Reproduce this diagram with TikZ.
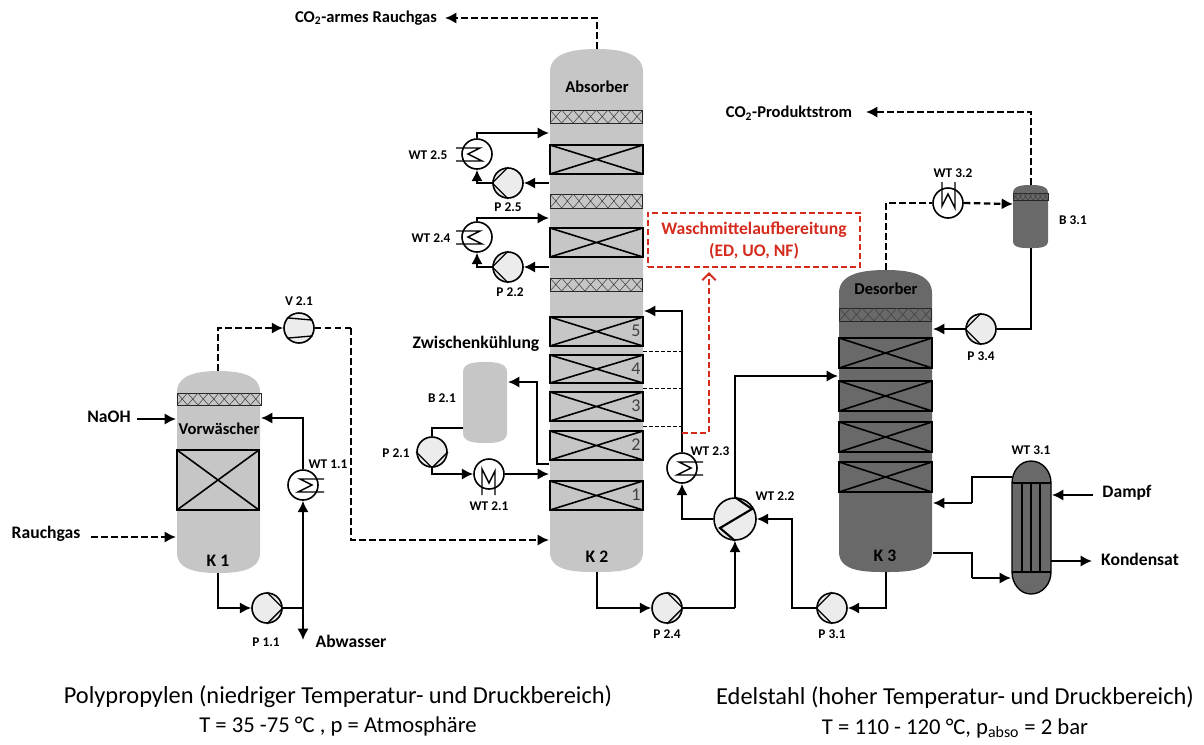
\documentclass[tikz,border=0pt]{standalone}
\usepackage{fontspec}
\setmainfont{Carlito}
\usetikzlibrary{arrows.meta}
\definecolor{lightcol}{HTML}{C6C6C6}
\definecolor{darkcol}{HTML}{696969}
\definecolor{unitcol}{HTML}{ECECEC}
\definecolor{redcol}{HTML}{D52B1E}
\tikzset{
  flow/.style={line width=1.5pt,-{Latex[length=8.5pt,width=8.5pt]}},
  pipe/.style={line width=1.5pt},
  gasflow/.style={line width=1.7pt,dash pattern=on 5pt off 2.5pt,-{Latex[length=8.5pt,width=8.5pt]}},
  gaspipe/.style={line width=1.7pt,dash pattern=on 5pt off 2.5pt},
  levelline/.style={line width=0.7pt,dash pattern=on 3pt off 1.5pt},
  redflow/.style={redcol,line width=1.5pt,dash pattern=on 4.5pt off 2.4pt,-{Straight Barb[length=5pt,width=10pt]}},
  unit/.style={circle,draw,line width=1.2pt,fill=unitcol,minimum size=22.5pt,inner sep=0pt},
  unitlabel/.style={font=\bfseries\fontsize{10}{12}\selectfont,inner sep=0pt},
  streamlabel/.style={font=\bfseries\fontsize{12.4}{14}\selectfont,inner sep=0pt},
  biglabel/.style={font=\bfseries\fontsize{13.2}{15}\selectfont,inner sep=0pt},
  matlabel/.style={font=\fontsize{18.3}{22}\selectfont,inner sep=0pt},
  matsub/.style={font=\fontsize{17}{20}\selectfont,inner sep=0pt},
}
% column body: name, x0, xm, x1, top, shoulder, lower shoulder, bottom, colour
\newcommand{\tower}[9]{
  \fill[#9] (#2,#6) to[out=90,in=180] (#3,#5) to[out=0,in=90] (#4,#6)
    -- (#4,#7) to[out=-90,in=0] (#3,#8) to[out=180,in=-90] (#2,#7) -- cycle;
  \coordinate (#1top) at (#3,#5);
  \coordinate (#1bot) at (#3,#8);
}
% packed bed
\newcommand{\packing}[4]{
  \draw[line width=1.3pt] (#1,#2) rectangle (#3,#4);
  \draw[line width=1.2pt] (#1,#2) -- (#3,#4) (#1,#4) -- (#3,#2);
}
% demister: x0, y0, cell width, y1, number of cells
\newcommand{\demister}[5]{
  \draw[line width=0.7pt,black!85] (#1,#2) rectangle ({#1+#3*#5},#4);
  \foreach \k in {1,...,#5}{
    \draw[line width=0.4pt,black!75] ({#1+#3*(\k-1)},#2) -- ({#1+#3*\k},#4)
      ({#1+#3*(\k-1)},#4) -- ({#1+#3*\k},#2);
  }
}
% pump: name, x, y, outlet angle
\newcommand{\pump}[4]{
  \node[unit] (#1) at (#2,#3) {};
  \pgfmathtruncatemacro{\angA}{#4+90}
  \pgfmathtruncatemacro{\angB}{#4-90}
  \draw[line width=1pt] (#1.\angA) -- (#1.#4) -- (#1.\angB);
}
% heat exchanger: name, x, y, orientation
\newcommand{\wt}[4]{
  \node[unit,fill=white] (#1) at (#2,#3) {};
  \begin{scope}[shift={(#2,#3)},#4]
    \draw[line width=1.1pt] (21,-6) -- (-3,-6) -- (9,0) -- (-5,7) -- (21,7);
  \end{scope}
}
\begin{document}
\begin{tikzpicture}[x=0.75pt,y=-0.75pt]
\useasboundingbox (0,0) rectangle (1204,744);

% columns
\tower{K1}{177}{218}{260}{371}{392}{553}{573}{lightcol}
\tower{K2}{550}{597}{643}{49}{72}{552}{572}{lightcol}
\tower{K3}{839}{886}{932}{270}{293}{552}{572}{darkcol}
\tower{B21}{463}{485}{507}{362}{372}{433}{443}{lightcol}
\tower{B31}{1013}{1031}{1048}{185}{193}{241}{248}{darkcol}

% internals
\demister{177}{393}{10.5}{405}{8}
\packing{177}{450}{259}{510}
\demister{550}{110}{11.6}{123}{8}
\demister{550}{194}{11.6}{208}{8}
\demister{550}{278}{11.6}{291}{8}
\packing{550}{145}{643}{174}
\packing{550}{228}{643}{257}
\packing{550}{317}{643}{346}
\packing{550}{355}{643}{383}
\packing{550}{392}{643}{421}
\packing{550}{431}{643}{460}
\packing{550}{481}{643}{510}
\demister{839}{308}{11.6}{321}{8}
\packing{839}{338}{932}{368}
\packing{839}{381}{932}{411}
\packing{839}{422}{932}{452}
\packing{839}{462}{932}{492}
\demister{1013}{193}{5}{200}{7}

% reboiler WT 3.1
\draw[line width=1pt,fill=darkcol] (1012,483) to[out=90,in=180] (1031,461) to[out=0,in=90] (1051,483)
  -- (1051,572) to[out=-90,in=0] (1031,594) to[out=180,in=-90] (1012,572) -- cycle;
\draw[line width=1pt] (1012,483) -- (1051,483) (1012,572) -- (1051,572);
\draw[line width=1pt] (1022,483) -- (1022,572) (1031,483) -- (1031,572) (1040,483) -- (1040,572);

% machines
\pump{P11}{267}{608}{0}
\pump{P25}{508}{183}{180}
\pump{P22}{508}{267}{180}
\pump{P21}{432}{452}{-90}
\pump{P24}{667}{608}{0}
\pump{P31}{832}{608}{180}
\pump{P34}{981}{329}{180}
\node[unit] (V21) at (299,328) {};
\draw[line width=1pt] (V21.140) -- (V21.30) (V21.-140) -- (V21.-30);
\wt{WT11}{303}{485}{}
\wt{WT23}{682}{468}{}
\wt{WT25}{477}{154}{xscale=-1}
\wt{WT24}{477}{237}{xscale=-1}
\wt{WT21}{489}{474}{rotate=-90}
\wt{WT32}{948}{203}{rotate=90}
\node[unit,fill=unitcol,minimum size=31.5pt] (WT22) at (735,519) {};
\draw[line width=1.6pt] (WT22.north) -- (752,509) -- (720,528) -- (WT22.south);

% free ends
\coordinate (NaOHa) at (137,419);
\coordinate (NaOHb) at (176,419);
\coordinate (RGa) at (91,537);
\coordinate (RGb) at (176,537);
\coordinate (K1r) at (261,418);
\coordinate (J1) at (303,608);
\coordinate (Abw) at (303,640);
\coordinate (V21b) at (351,328);
\coordinate (K2in) at (549,540);
\coordinate (K2out) at (445,18);
\coordinate (K2e) at (597,18);
\coordinate (K25in) at (549,133);
\coordinate (K25out) at (549,183);
\coordinate (K24in) at (549,218);
\coordinate (K24out) at (549,267);
\coordinate (K21a) at (549,464);
\coordinate (K21b) at (549,474);
\coordinate (B21c) at (537,382);
\coordinate (B21in) at (508,382);
\coordinate (B21out) at (463,428);
\coordinate (K2r) at (644,311);
\coordinate (J2) at (682,433);
\coordinate (J3) at (709,272);
\coordinate (Jb) at (735,608);
\coordinate (Jc) at (792,519);
\coordinate (K3in) at (838,376);
\coordinate (K3out) at (933,329);
\coordinate (K3ra) at (933,503);
\coordinate (K3rb) at (933,553);
\coordinate (R1a) at (1012,477);
\coordinate (R1b) at (1011,578);
\coordinate (R2a) at (972,503);
\coordinate (R2b) at (972,578);
\coordinate (B31in) at (1013,204);
\coordinate (Prod) at (866,112);
\coordinate (DAa) at (1093,495);
\coordinate (DAb) at (1052,495);
\coordinate (KOa) at (1051,561);
\coordinate (KOb) at (1092,561);
\coordinate (LVa) at (643,351);
\coordinate (LVb) at (643,388);
\coordinate (LVc) at (643,426);

% K 1
\draw[flow] (NaOHa) -- (NaOHb);
\draw[gasflow] (RGa) -- (RGb);
\draw[flow] (K1bot) |- (P11.west);
\draw[pipe] (P11.east) -- (J1);
\draw[flow] (J1) -- (WT11.south);
\draw[flow] (J1) -- (Abw);
\draw[flow] (WT11.north) |- (K1r);
\draw[gasflow] (K1top) |- (V21.west);
\draw[gaspipe] (V21.east) -- (V21b);
\draw[gasflow] (V21b) |- (K2in);

% K 2
\draw[gasflow] (K2top) -- (K2e) -- (K2out);
\draw[flow] (WT25.north) |- (K25in);
\draw[flow] (K25out) -- (P25.east);
\draw[flow] (P25.west) -| (WT25.south);
\draw[flow] (WT24.north) |- (K24in);
\draw[flow] (K24out) -- (P22.east);
\draw[flow] (P22.west) -| (WT24.south);
\draw[flow] (K21a) -| (B21c) -- (B21in);
\draw[line width=1.2pt] (B21out) -| (P21.north);
\draw[flow] (P21.south) |- (WT21.west);
\draw[flow] (WT21.east) -- (K21b);
\draw[flow] (K2bot) |- (P24.west);
\draw[pipe] (P24.east) -- (Jb);
\draw[flow] (Jb) -- (WT22.south);
\draw[flow] (WT22.west) -| (WT23.south);
\draw[flow] (WT23.north) |- (K2r);
\draw[levelline] (LVa) -- (LVa -| WT23);
\draw[levelline] (LVb) -- (LVb -| WT23);
\draw[levelline] (LVc) -- (LVc -| WT23);

% K 3
\draw[flow] (WT22.north) |- (K3in);
\draw[flow] (K3bot) |- (P31.east);
\draw[flow] (P31.west) -| (Jc) -- (WT22.east);
\draw[gaspipe] (K3top) |- (WT32.west);
\draw[gasflow] (WT32.east) -- (B31in);
\draw[gasflow] (B31top) |- (Prod);
\draw[pipe] (B31bot) |- (P34.east);
\draw[flow] (P34.west) -- (K3out);
\draw[pipe] (R1a) -| (R2a);
\draw[flow] (R2a) -- (K3ra);
\draw[pipe] (K3rb) -| (R2b);
\draw[flow] (R2b) -- (R1b);
\draw[flow] (DAa) -- (DAb);
\draw[flow] (KOa) -- (KOb);

% solvent treatment
\node[draw=redcol,line width=1.5pt,dash pattern=on 4.5pt off 2.4pt,minimum width=159.5pt,minimum height=41pt,inner sep=0pt] (WA) at (754,240) {};
\node[biglabel,redcol] (WAa) at (754,230) {Waschmittelaufbereitung};
\node[biglabel,redcol] (WAb) at (754,251) {(ED, UO, NF)};
\draw[redflow] (J2) -| (J3);

% labels
\node[biglabel] (lNaOH) at (109,417) {NaOH};
\node[biglabel] (lRG) at (46,534) {Rauchgas};
\node[streamlabel] (lVor) at (219,429) {Vorwäscher};
\node[biglabel] (lK1) at (218,561) {K 1};
\node[biglabel] (lAbw) at (351,641) {Abwasser};
\node[streamlabel] (lArm) at (366,18) {CO\textsubscript{2}-armes Rauchgas};
\node[streamlabel] (lAbs) at (597,87) {Absorber};
\node[biglabel] (lK2) at (597,557) {K 2};
\node[biglabel] (lZw) at (476,344) {Zwischenkühlung};
\node[streamlabel] (lProd) at (789,113) {CO\textsubscript{2}-Produktstrom};
\node[streamlabel] (lDes) at (886,289) {Desorber};
\node[biglabel] (lK3) at (885,556) {K 3};
\node[biglabel] (lDa) at (1127,493) {Dampf};
\node[biglabel] (lKo) at (1140,559) {Kondensat};
\node[unitlabel] (tV21) at (299,301) {V 2.1};
\node[unitlabel] (tP11) at (266,642) {P 1.1};
\node[unitlabel] (tW11) at (328,464) {WT 1.1};
\node[unitlabel] (tW25) at (428,155) {WT 2.5};
\node[unitlabel] (tP25) at (508,207) {P 2.5};
\node[unitlabel] (tW24) at (431,238) {WT 2.4};
\node[unitlabel] (tP22) at (510,292) {P 2.2};
\node[unitlabel] (tB21) at (442,398) {B 2.1};
\node[unitlabel] (tP21) at (396,453) {P 2.1};
\node[unitlabel] (tW21) at (489,506) {WT 2.1};
\node[unitlabel] (tW23) at (710,451) {WT 2.3};
\node[unitlabel] (tW22) at (775,496) {WT 2.2};
\node[unitlabel] (tP24) at (667,634) {P 2.4};
\node[unitlabel] (tP31) at (832,634) {P 3.1};
\node[unitlabel] (tW32) at (953,173) {WT 3.2};
\node[unitlabel] (tB31) at (1073,220) {B 3.1};
\node[unitlabel] (tP34) at (981,356) {P 3.4};
\node[unitlabel] (tW31) at (1031,450) {WT 3.1};
\foreach \n/\y in {5/331,4/369,3/406,2/445,1/495}{
  \node[font=\fontsize{13.5}{15}\selectfont,inner sep=0pt,text=black!75] (num\n) at (636,\y) {\n};
}

% materials
\node[matlabel] (mPP) at (338,697) {Polypropylen (niedriger Temperatur- und Druckbereich)};
\node[matsub] (mPPb) at (338,726) {T = 35 -75 °C , p = Atmosphäre};
\node[matlabel] (mES) at (955,698) {Edelstahl (hoher Temperatur- und Druckbereich)};
\node[matsub] (mESb) at (955,728) {T = 110 - 120 °C, p\textsubscript{abso} = 2 bar};
\end{tikzpicture}
\end{document}
